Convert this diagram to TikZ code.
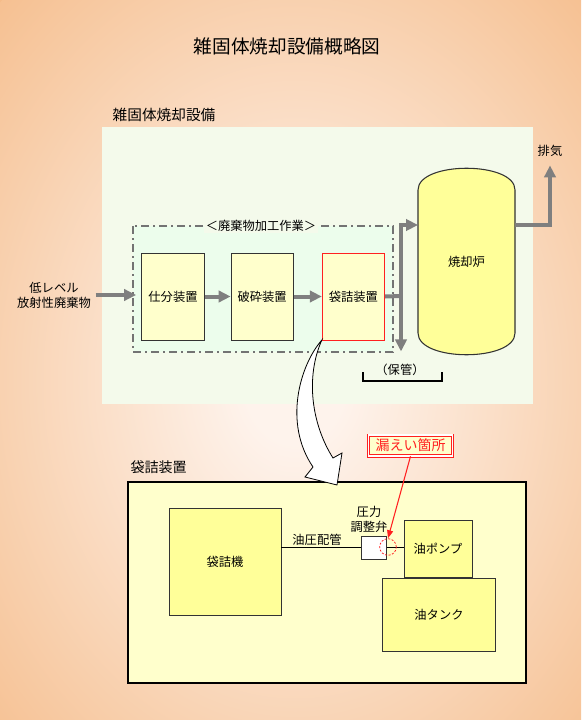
\documentclass[tikz,border=0pt]{standalone}
\usepackage{fontspec}
\setmainfont{Noto Sans CJK JP}
\usetikzlibrary{arrows.meta, positioning}
\definecolor{bgorange}{HTML}{F5BC8A}
\definecolor{bgglow}{HTML}{FEF3EC}
\definecolor{dotfill}{HTML}{F4FAEB}
\definecolor{workfill}{HTML}{ECFDEC}
\definecolor{lightyel}{HTML}{FFFFCC}
\definecolor{deepyel}{HTML}{FFFF99}
\definecolor{pipegray}{HTML}{7F7F7F}
\definecolor{alertred}{HTML}{FF2020}
\pgfdeclareradialshading{bgshade}{\pgfpoint{0bp}{0bp}}{color(0bp)=(bgglow); color(3bp)=(bgglow); color(27bp)=(bgorange); color(60bp)=(bgorange)}

\begin{document}
\begin{tikzpicture}[x=0.75pt, y=-0.75pt,
      font=\fontsize{9.2pt}{11.3pt}\selectfont,
      unit/.style={rectangle, draw=black!80, fill=lightyel, minimum width=47pt, minimum height=65pt, inner sep=0pt},
      part/.style={rectangle, draw=black!80, fill=deepyel, inner sep=0pt},
      workbox/.style={draw=black!55, fill=workfill, line width=1.5pt, dash pattern=on 6pt off 3pt on 1.5pt off 3pt},
      garrow/.style={-{Triangle[length=9pt, width=8.5pt]}, line width=3pt, pipegray},
      gline/.style={line width=3pt, pipegray},
      pipe/.style={draw=black, line width=0.8pt},
      redarr/.style={-{Triangle[length=6pt, width=4.5pt]}, alertred, line width=0.8pt}
    ]
      \useasboundingbox (0,0) rectangle (581,720);
      % background
      \fill[bgorange] (0,0) rectangle (581,720);
      \begin{scope}
        \clip (0,0) rectangle (581,720);
        \shade[shading=bgshade] (295,380) ellipse [x radius=420, y radius=530];
      \end{scope}
      \node[font=\fontsize{14pt}{16pt}\selectfont] (title) at (287,46) {雑固体焼却設備概略図};

      % incineration facility
      \node[anchor=west, font=\fontsize{11pt}{13pt}\selectfont] (plantlabel) at (108,115) {雑固体焼却設備};
      \fill[dotfill] (102,127) rectangle (533,404);
      \draw[workbox] (133,226) rectangle (393,352);
      \node[fill=dotfill, inner sep=1pt] (worktag) at (261,226) {＜廃棄物加工作業＞};

      \node[unit] (sort) at (173,296.5) {仕分装置};
      \node[unit, right=19.5pt of sort] (crush) {破砕装置};
      \node[unit, draw=alertred, right=21pt of crush] (bag) {袋詰装置};
      \node[align=center] (input) at (54,295) {低レベル\\放射性廃棄物};

      \draw[fill=deepyel, draw=black!80, line width=0.8pt] (418,190) .. controls (418,161) and (515,161) .. (515,190)
        -- (515,333) .. controls (515,362) and (418,362) .. (418,333) -- cycle;
      \node[minimum width=72pt, minimum height=140pt] (furn) at (466.5,261.5) {焼却炉};
      \node (exhaust) at (550,151) {排気};
      \node (store) at (400,370) {（保管）};

      \coordinate (jn) at (401,296);
      \coordinate (fin) at (418,225);
      \coordinate (fout) at (515,225);

      \draw[garrow, shorten >=4pt] (input.east) -- (input.east -| sort.west);
      \draw[garrow] (sort) -- (crush);
      \draw[garrow] (crush) -- (bag);
      \draw[gline] (bag.east) -- (jn);
      \draw[garrow] (jn) |- (fin);
      \draw[garrow, shorten >=6pt] (jn) -- (jn |- store.north);
      \draw[garrow, shorten >=3pt] (fout) -| (exhaust.south);
      \draw[line width=0.8pt] (363,372) |- (442,381) -- (442,372);

      % bagging unit detail
      \node[anchor=west, font=\fontsize{10.5pt}{12pt}\selectfont] (baglabel) at (126,467) {袋詰装置};
      \draw[fill=lightyel, line width=0.8pt] (128,482) rectangle (526,683);
      \node[part, minimum width=84pt, minimum height=80pt] (machine) at (225,562) {袋詰機};
      \node[rectangle, draw=black!80, fill=white, minimum width=18.75pt, minimum height=17pt, inner sep=0pt] (valve) at (374,547.5) {};
      \node[align=center] (valvelabel) at (369,519) {圧力\\調整弁};
      \node (pipelabel) at (317,540) {油圧配管};
      \node[part, minimum width=51pt, minimum height=43pt] (pump) at (438,549) {油ポンプ};
      \node[part, minimum width=85pt, minimum height=55pt] (tank) at (439,614.5) {油タンク};
      \draw[pipe] (machine.east |- valve.west) -- (valve.west);
      \draw[pipe] (valve.east) -- (valve.east -| pump.west);
      \node[circle, draw=alertred, dash pattern=on 1.5pt off 1.2pt, line width=0.6pt, minimum size=12.5pt, inner sep=0pt] (leak) at (388,547) {};

      \node[draw=alertred, double=white, double distance=1.2pt, line width=0.6pt, fill=lightyel, text=alertred,
        font=\fontsize{10.5pt}{12pt}\selectfont, minimum width=63pt, minimum height=15.6pt, inner sep=0pt] (callout) at (410.5,445.5) {漏えい箇所};
      \draw[redarr] (callout.south) -- (leak.north);

      % zoom arrow
      \draw[fill=white, line width=0.6pt] (bag.south west) .. controls (300,365) and (283,423) .. (313,467)
        -- (305,477) -- (337,485) -- (342,453) -- (333,458) .. controls (312,425) and (305,378) .. (bag.south west) -- cycle;
    \end{tikzpicture}
\end{document}
